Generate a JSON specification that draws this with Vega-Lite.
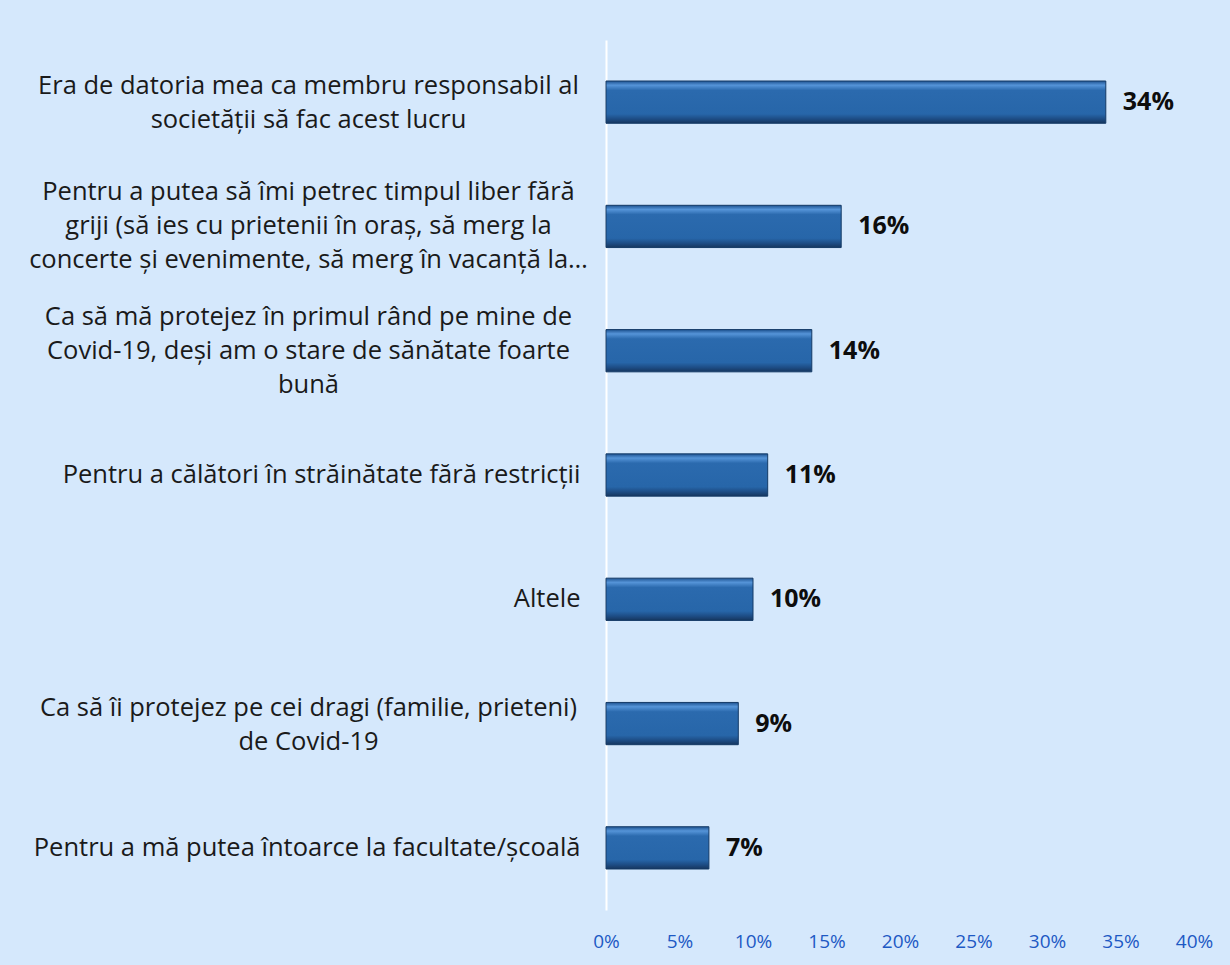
{
  "$schema": "https://vega.github.io/schema/vega-lite/v6.json",
  "autosize": "none",
  "width": 588,
  "height": 870,
  "padding": {"left": 606, "top": 40, "right": 36, "bottom": 55},
  "background": "#d5e8fc",
  "config": {
    "view": {"stroke": null},
    "font": "Open Sans"
  },
  "data": {
    "values": [
      {"reason": "Era de datoria mea ca membru responsabil al\nsocietății să fac acest lucru", "value": 0.34},
      {"reason": "Pentru a putea să îmi petrec timpul liber fără\ngriji (să ies cu prietenii în oraș, să merg la\nconcerte și evenimente, să merg în vacanță la…", "value": 0.16},
      {"reason": "Ca să mă protejez în primul rând pe mine de\nCovid-19, deși am o stare de sănătate foarte\nbună", "value": 0.14},
      {"reason": "Pentru a călători în străinătate fără restricții", "value": 0.11},
      {"reason": "Altele", "value": 0.10},
      {"reason": "Ca să îi protejez pe cei dragi (familie, prieteni)\nde Covid-19", "value": 0.09},
      {"reason": "Pentru a mă putea întoarce la facultate/școală", "value": 0.07}
    ]
  },
  "encoding": {
    "y": {
      "field": "reason",
      "type": "nominal",
      "sort": null,
      "scale": {"paddingInner": 0.66, "paddingOuter": 0.33},
      "axis": {
        "title": null,
        "ticks": false,
        "domain": true,
        "domainColor": "#ffffff",
        "domainWidth": 2,
        "labelExpr": "split(datum.label, '\\n')",
        "labelFont": "Open Sans",
        "labelFontSize": 25.5,
        "labelColor": "#1a1a1a",
        "labelLineHeight": 34,
        "labelPadding": {"condition": {"test": "indexof(datum.value, '\\n') < 0", "value": 26}, "value": 298},
        "labelOffset": {
          "condition": [
            {"test": "length(split(datum.value, '\\n')) == 3", "value": -34},
            {"test": "length(split(datum.value, '\\n')) == 2", "value": -16}
          ],
          "value": 0
        },
        "labelLimit": 0,
        "labelAlign": {"condition": {"test": "indexof(datum.value, '\\n') < 0", "value": "right"}, "value": "center"},
        "labelBaseline": "middle"
      }
    },
    "x": {
      "field": "value",
      "type": "quantitative",
      "scale": {"domain": [0, 0.4], "nice": false},
      "axis": {
        "title": null,
        "format": ".0%",
        "values": [0, 0.05, 0.1, 0.15, 0.2, 0.25, 0.3, 0.35, 0.4],
        "grid": false,
        "ticks": false,
        "domain": false,
        "labelFlush": false,
        "labelFont": "Open Sans",
        "labelFontSize": 19,
        "labelColor": "#1d59c4",
        "labelPadding": 22
      }
    }
  },
  "layer": [
    {
      "mark": {
        "type": "bar",
        "stroke": "#143a66",
        "strokeWidth": 1,
        "color": {
          "gradient": "linear",
          "x1": 0, "y1": 0, "x2": 0, "y2": 1,
          "stops": [
            {"offset": 0, "color": "#1e5391"},
            {"offset": 0.1, "color": "#5594d8"},
            {"offset": 0.22, "color": "#2b6aae"},
            {"offset": 0.78, "color": "#2766a9"},
            {"offset": 0.9, "color": "#1d4c84"},
            {"offset": 1, "color": "#16365e"}
          ]
        }
      }
    },
    {
      "mark": {
        "type": "text",
        "align": "left",
        "baseline": "middle",
        "dx": 17,
        "font": "Open Sans",
        "fontSize": 25,
        "fontWeight": "bold",
        "color": "#0d0d0d"
      },
      "encoding": {
        "text": {"field": "value", "type": "quantitative", "format": ".0%"}
      }
    }
  ]
}
